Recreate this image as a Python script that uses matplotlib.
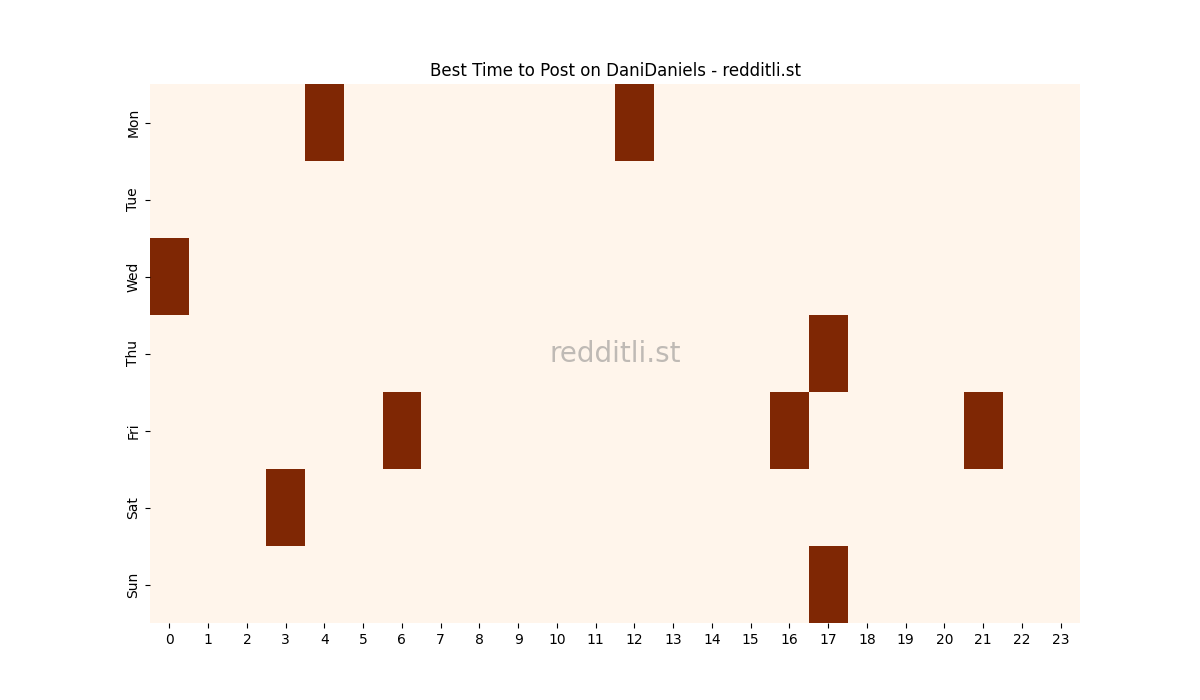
import matplotlib
matplotlib.use("Agg")
import matplotlib.pyplot as plt
import seaborn as sns
import numpy as np

days = ["Mon", "Tue", "Wed", "Thu", "Fri", "Sat", "Sun"]
hours = list(range(24))

# best hours per day (cells that are "hot")
mon = [4, 12]
tue = []
wed = [0]
thu = [17]
fri = [6, 16, 21]
sat = [3]
sun = [17]

grid = np.zeros((len(days), len(hours)))
for i, hot in enumerate([mon, tue, wed, thu, fri, sat, sun]):
    for h in hot:
        grid[i, h] = 1

fig = plt.figure(figsize=(12, 7), dpi=100)
ax = sns.heatmap(grid, cmap="Oranges", cbar=False, xticklabels=hours, yticklabels=days)
ax.set_title("Best Time to Post on DaniDaniels - redditli.st")
ax.text(0.5, 0.5, "redditli.st", transform=ax.transAxes, fontsize=20,
        color="gray", alpha=0.5, ha="center", va="center")
plt.yticks(rotation=90, va="center")
plt.xticks(rotation=0)

plt.savefig("out.png")
